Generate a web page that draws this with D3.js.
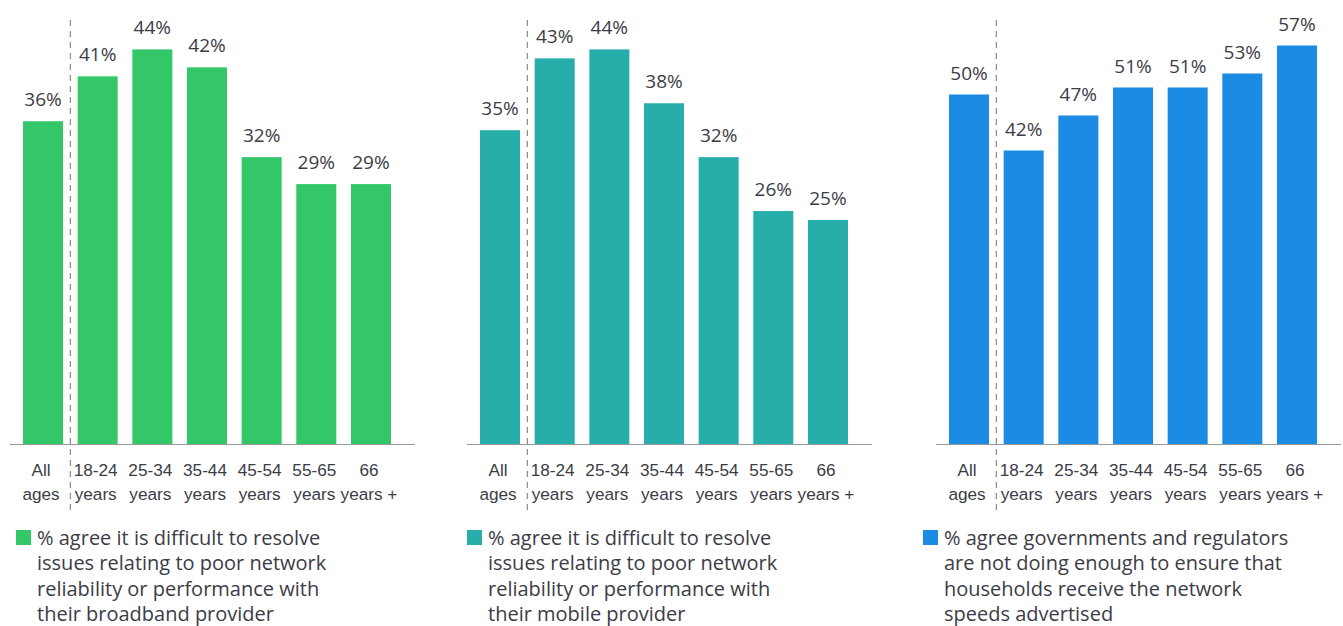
<!DOCTYPE html>
<html>
<head>
<meta charset="utf-8">
<script src="https://cdn.jsdelivr.net/npm/d3@7"></script>
<style>
  html, body { margin: 0; padding: 0; background: #fff; }
  svg { display: block; font-family: "Open Sans", "Noto Sans", sans-serif; }
</style>
</head>
<body>
<svg id="chart" width="1343" height="626"></svg>
<script>
// Age groups shown under every panel (two-line tick labels)
const categories = ["All ages", "18-24 years", "25-34 years", "35-44 years", "45-54 years", "55-65 years", "66 years +"];
const tickLines = [["All", "ages"], ["18-24", "years"], ["25-34", "years"], ["35-44", "years"], ["45-54", "years"], ["55-65", "years"], ["66", "years +"]];

// Survey results, % agreeing
const broadbandValues = [36, 41, 44, 42, 32, 29, 29];
const mobileValues = [35, 43, 44, 38, 32, 26, 25];
const regulatorValues = [50, 42, 47, 51, 51, 53, 57];

// Legend captions, pre-wrapped
const broadbandLegend = ["% agree it is difficult to resolve", "issues relating to poor network", "reliability or performance with", "their broadband provider"];
const mobileLegend = ["% agree it is difficult to resolve", "issues relating to poor network", "reliability or performance with", "their mobile provider"];
const regulatorLegend = ["% agree governments and regulators", "are not doing enough to ensure that", "households receive the network", "speeds advertised"];

const panels = [
  { values: broadbandValues, legend: broadbandLegend, color: "#33c76a", x0: 10, yMax: 49.5, legendX: 6 },
  { values: mobileValues, legend: mobileLegend, color: "#27aeaa", x0: 467, yMax: 49.5, legendX: 0 },
  { values: regulatorValues, legend: regulatorLegend, color: "#1b8be3", x0: 936, yMax: 63.5, legendX: -13 }
];

const svg = d3.select("#chart");
const baseline = 444.5;
const topY = 0;
const textColor = "#3c3c46";

panels.forEach(p => {
  const g = svg.append("g").attr("transform", `translate(${p.x0},0)`);

  const x = d3.scaleBand()
    .domain(categories)
    .range([5.7, 388.3])
    .paddingInner(0.268)
    .paddingOuter(0.134);

  const y = d3.scaleLinear()
    .domain([0, p.yMax])
    .range([baseline, topY]);

  // bars
  g.selectAll("rect.bar")
    .data(p.values)
    .join("rect")
    .attr("class", "bar")
    .attr("x", (d, i) => x(categories[i]))
    .attr("width", x.bandwidth())
    .attr("y", d => y(d))
    .attr("height", d => y(0) - y(d))
    .attr("fill", p.color);

  // value labels
  g.selectAll("text.val")
    .data(p.values)
    .join("text")
    .attr("class", "val")
    .attr("x", (d, i) => x(categories[i]) + x.bandwidth() / 2)
    .attr("y", d => y(d) - 15)
    .attr("text-anchor", "middle")
    .attr("font-size", 19)
    .attr("fill", textColor)
    .text(d => d + "%");

  // x axis with two-line labels
  const axis = g.append("g")
    .attr("transform", `translate(0,${baseline})`)
    .call(d3.axisBottom(x).tickSize(0).tickPadding(0).tickFormat(""));
  axis.select(".domain")
    .attr("d", "M0,0H405")
    .attr("stroke", "#9a9a9a")
    .attr("stroke-width", 1.2);

  axis.selectAll(".tick").each(function (d, i) {
    const t = d3.select(this).select("text")
      .attr("font-size", 17.2)
      .attr("fill", textColor)
      .attr("font-family", null)
      .attr("y", 0)
      .attr("dy", null);
    t.selectAll("tspan")
      .data(tickLines[i])
      .join("tspan")
      .attr("x", -2)
      .attr("y", (l, j) => 31 + j * 24)
      .text(l => l);
  });

  // separator between the all-ages bar and the age bands
  const sepX = (x(categories[0]) + x.bandwidth() + x(categories[1])) / 2;
  g.append("line")
    .attr("x1", sepX).attr("x2", sepX)
    .attr("y1", 20).attr("y2", 510)
    .attr("stroke", "#8a8a8e")
    .attr("stroke-width", 1.2)
    .attr("stroke-dasharray", "6,5");

  // legend
  const lg = g.append("g").attr("transform", `translate(${p.legendX},530)`);
  lg.append("rect")
    .attr("x", 0).attr("y", 0)
    .attr("width", 15).attr("height", 15)
    .attr("fill", p.color);
  lg.append("text")
    .attr("font-size", 20)
    .attr("fill", textColor)
    .selectAll("tspan")
    .data(p.legend)
    .join("tspan")
    .attr("x", 21)
    .attr("y", (l, j) => 14.5 + j * 25.5)
    .text(l => l);
});
</script>
</body>
</html>
